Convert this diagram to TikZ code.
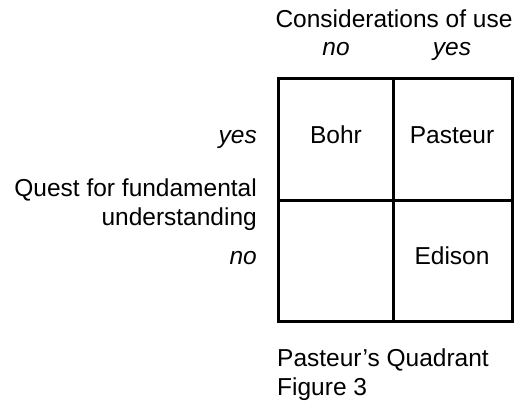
\documentclass[tikz,border=0pt]{standalone}
\usepackage{fontspec}
\setmainfont{Liberation Sans}
\begin{document}
\begin{tikzpicture}[x=1pt,y=-1pt,
  lbl/.style={font=\fontsize{24.5}{29}\selectfont, inner sep=0pt},
  ilbl/.style={inner sep=0pt, font=\fontsize{24.5}{29}\selectfont\itshape},
  grid/.style={line width=3pt}]
\useasboundingbox (0,0) rectangle (518,410);
\fill[white] (0,0) rectangle (518,410);
\draw[grid] (278,78) rectangle (512,321);
\draw[grid] (393,78) -- (393,321);
\draw[grid] (278,200) -- (512,200);
\node[lbl, anchor=base] (cons) at (394,27) {Considerations of use};
\node[ilbl, anchor=base] (cno) at (336,55) {no};
\node[ilbl, anchor=base] (cyes) at (452,55) {yes};
\node[ilbl, anchor=base east] (qyes) at (257,143) {yes};
\node[lbl, anchor=base east] (quest) at (257,196) {Quest for fundamental};
\node[lbl, anchor=base east] (quest2) at (257,225) {understanding};
\node[ilbl, anchor=base east] (qno) at (257,264) {no};
\node[lbl, anchor=base] (bohr) at (336,143) {Bohr};
\node[lbl, anchor=base] (pasteur) at (452,143) {Pasteur};
\node[lbl, anchor=base] (edison) at (452,264) {Edison};
\node[lbl, anchor=base west] (pq) at (277,366) {Pasteur’s Quadrant};
\node[lbl, anchor=base west] (fig) at (277,395) {Figure 3};
\end{tikzpicture}
\end{document}
